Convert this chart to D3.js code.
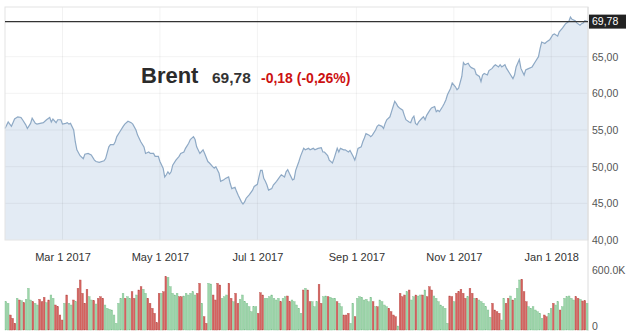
<!DOCTYPE html>
<html>
<head>
<meta charset="utf-8">
<script src="https://cdn.jsdelivr.net/npm/d3@7"></script>
<style>
    body { margin: 0; background: #fff; }
    svg { display: block; font-family: "Liberation Sans", Arial, sans-serif; }
</style>
</head>
<body>
<div id="chart"></div>
<script>
// daily Brent closes
const dates = [
    "2017-01-24","2017-01-26","2017-01-28","2017-01-29","2017-01-30","2017-02-01","2017-02-03","2017-02-04","2017-02-06","2017-02-07",
    "2017-02-09","2017-02-10","2017-02-12","2017-02-13","2017-02-15","2017-02-17","2017-02-19","2017-02-21","2017-02-22","2017-02-23",
    "2017-02-25","2017-02-26","2017-02-28","2017-03-01","2017-03-03","2017-03-04","2017-03-05","2017-03-06","2017-03-08","2017-03-09",
    "2017-03-10","2017-03-12","2017-03-14","2017-03-15","2017-03-17","2017-03-19","2017-03-21","2017-03-22","2017-03-24","2017-03-27",
    "2017-03-28","2017-03-30","2017-03-31","2017-04-02","2017-04-03","2017-04-04","2017-04-06","2017-04-08","2017-04-09","2017-04-11",
    "2017-04-13","2017-04-14","2017-04-16","2017-04-17","2017-04-19","2017-04-21","2017-04-22","2017-04-24","2017-04-25","2017-04-27",
    "2017-04-28","2017-04-30","2017-05-01","2017-05-03","2017-05-04","2017-05-05","2017-05-06","2017-05-07","2017-05-08","2017-05-09",
    "2017-05-11","2017-05-13","2017-05-14","2017-05-16","2017-05-17","2017-05-19","2017-05-20","2017-05-22","2017-05-23","2017-05-24",
    "2017-05-26","2017-05-28","2017-05-29","2017-05-31","2017-06-01","2017-06-03","2017-06-04","2017-06-05","2017-06-07","2017-06-08",
    "2017-06-10","2017-06-11","2017-06-13","2017-06-14","2017-06-15","2017-06-17","2017-06-18","2017-06-19","2017-06-21","2017-06-22",
    "2017-06-23","2017-06-24","2017-06-26","2017-06-28","2017-06-29","2017-07-01","2017-07-02","2017-07-03","2017-07-04","2017-07-05",
    "2017-07-06","2017-07-07","2017-07-08","2017-07-10","2017-07-11","2017-07-13","2017-07-15","2017-07-16","2017-07-18","2017-07-19",
    "2017-07-20","2017-07-21","2017-07-23","2017-07-24","2017-07-25","2017-07-27","2017-07-28","2017-07-30","2017-07-31","2017-08-02",
    "2017-08-03","2017-08-05","2017-08-06","2017-08-08","2017-08-10","2017-08-11","2017-08-12","2017-08-14","2017-08-15","2017-08-17",
    "2017-08-18","2017-08-20","2017-08-21","2017-08-22","2017-08-24","2017-08-25","2017-08-27","2017-08-28","2017-08-30","2017-08-31",
    "2017-09-01","2017-09-02","2017-09-04","2017-09-05","2017-09-06","2017-09-07","2017-09-09","2017-09-10","2017-09-11","2017-09-13",
    "2017-09-14","2017-09-15","2017-09-17","2017-09-18","2017-09-19","2017-09-20","2017-09-22","2017-09-23","2017-09-24","2017-09-25",
    "2017-09-26","2017-09-27","2017-09-28","2017-09-30","2017-10-01","2017-10-02","2017-10-04","2017-10-05","2017-10-06","2017-10-07",
    "2017-10-08","2017-10-09","2017-10-10","2017-10-12","2017-10-13","2017-10-14","2017-10-15","2017-10-17","2017-10-18","2017-10-20",
    "2017-10-21","2017-10-22","2017-10-23","2017-10-25","2017-10-26","2017-10-27","2017-10-28","2017-10-30","2017-10-31","2017-11-02",
    "2017-11-03","2017-11-04","2017-11-06","2017-11-07","2017-11-08","2017-11-10","2017-11-11","2017-11-12","2017-11-14","2017-11-15",
    "2017-11-17","2017-11-18","2017-11-19","2017-11-20","2017-11-22","2017-11-23","2017-11-25","2017-11-26","2017-11-27","2017-11-29",
    "2017-11-30","2017-12-01","2017-12-03","2017-12-04","2017-12-06","2017-12-08","2017-12-09","2017-12-10","2017-12-12","2017-12-13",
    "2017-12-15","2017-12-16","2017-12-17","2017-12-20","2017-12-22","2017-12-24","2017-12-25","2017-12-26","2017-12-28","2017-12-29",
    "2017-12-31","2018-01-02","2018-01-03","2018-01-05","2018-01-06","2018-01-08","2018-01-10","2018-01-12","2018-01-13","2018-01-14",
    "2018-01-16","2018-01-17","2018-01-19","2018-01-20","2018-01-21","2018-01-22","2018-01-24"
];
const closes = [
    55.2,56.1,55.5,56.0,56.5,56.8,56.7,56.4,55.7,55.2,
    55.9,56.6,55.9,55.8,55.9,56.0,56.4,56.7,56.1,56.5,
    56.0,56.4,56.4,55.8,55.9,56.0,55.8,55.9,55.0,53.4,
    52.3,51.5,51.1,51.7,51.8,51.6,50.9,50.7,50.6,50.8,
    51.1,52.7,53.0,53.0,53.4,54.1,54.8,55.5,55.8,56.2,
    56.0,55.8,55.0,54.3,53.4,52.7,51.8,52.0,51.8,51.8,
    51.4,51.4,50.7,49.8,48.6,48.9,49.3,49.0,49.3,50.2,
    50.9,51.4,51.8,52.0,52.5,53.2,53.7,54.1,53.7,52.7,
    51.8,52.3,51.8,50.7,50.5,50.0,49.8,50.0,49.1,48.0,
    48.2,48.4,48.6,47.7,47.0,47.2,46.6,46.1,45.2,44.9,
    45.2,45.7,46.2,46.8,47.3,47.6,48.6,49.5,49.5,48.4,
    48.0,47.5,46.8,47.0,47.5,48.0,48.6,48.9,48.6,49.3,
    49.6,49.1,48.2,48.3,49.5,50.7,51.4,52.5,52.3,52.5,
    52.3,52.5,52.3,52.5,52.6,52.0,52.0,51.5,50.9,50.5,
    51.1,52.5,52.0,52.5,52.3,52.3,52.0,52.2,51.4,50.9,
    51.6,52.5,52.7,53.4,53.9,54.5,54.3,54.1,54.3,55.0,
    55.5,55.7,55.5,55.2,55.9,56.4,56.8,57.5,58.2,58.9,
    58.6,58.2,58.0,57.7,57.0,56.4,56.1,56.0,56.6,56.9,
    55.9,55.7,56.1,56.6,56.8,56.4,57.0,57.7,58.0,58.2,
    57.5,57.7,57.5,58.2,58.6,59.1,59.8,60.7,61.4,60.9,
    60.5,60.7,62.3,64.2,63.9,64.1,63.7,63.5,63.3,62.6,
    62.3,61.6,62.5,62.7,62.5,63.1,63.4,63.7,63.9,63.6,
    63.9,63.6,63.9,63.4,62.7,62.0,62.5,63.6,64.6,63.4,
    62.5,63.2,63.3,63.6,64.3,65.0,66.1,67.0,66.8,67.0,
    67.3,68.0,68.1,67.8,68.4,68.9,69.5,69.8,70.4,70.1,
    69.9,69.6,69.3,69.5,69.6,69.9,69.78
];

// daily volume in thousands
const volumes = [
    283,267,150,117,67,317,300,293,273,307,417,300,283,267,250,307,283,327,273,300,
    350,317,250,233,150,100,267,350,267,250,300,283,417,500,367,267,407,333,300,293,
    260,317,333,317,250,217,207,200,150,67,267,317,367,317,333,317,383,317,350,400,
    433,407,367,317,267,217,167,73,367,367,383,533,527,433,367,350,367,333,333,340,
    367,350,367,383,350,367,467,267,133,67,467,460,350,300,467,450,317,333,350,467,
    317,283,367,267,307,350,283,267,233,183,233,233,167,373,350,317,317,333,350,317,
    300,317,283,317,333,340,283,300,283,250,217,167,400,417,400,283,283,233,
    283,457,267,333,340,333,327,317,317,283,267,233,150,150,167,67,267,133,317,333,
    327,300,307,283,327,283,233,233,300,283,250,233,217,183,150,133,40,367,333,350,
    383,400,300,333,350,340,350,350,400,333,433,400,340,317,283,250,233,217,67,340,
    333,283,367,383,407,367,317,333,417,367,317,317,300,283,267,233,200,127,267,200,
    183,167,100,317,267,317,340,300,317,417,500,507,383,283,233,217,233,200,183,167,
    117,150,133,167,217,267,250,283,200,233,317,333,340,317,300,333,317,307,290,293,
    267
];
// u = up day (green), d = down day (red), one letter per volume bar
const volDir = [
    "uudddududu","uuduudddud","uudddduduu","duddddduud","uddduuuuuu","uuuduuddud","duuddddddu",
    "dduuuuuddu","uuuuuddudd","uudddduuud","dudduuuuuu","uuddduuuuu","uuduudduuu","uududduu",
    "udduuduuud","uuddduuduu","uuuuududuu","uudddduddd","uduuduudud","dduuuuuuud","dudddddudd",
    "uduuuuuudd","dduudduduu","uddduuuuuu","udduuduudu","uuuuuddudd","u"
].join("").split("");

const yTicks = [40, 45, 50, 55, 60, 65];
const xTicks = ["2017-03-01","2017-05-01","2017-07-01","2017-09-01","2017-11-01","2018-01-01"];
const volTicks = [0, 600];

const lastClose = 69.78;
const change = "-0,18 (-0,26%)";

function main() {
    const parse = d3.timeParse("%Y-%m-%d");
    const data = dates.map(function(d, i) { return { date: parse(d), close: closes[i] }; });
    drawChart(data, parse);
}

function drawChart(data, parse) {
    const width = 640, height = 331;
    const left = 5, right = 588, top = 7, bottom = 240;

    const svg = d3.select("#chart").append("svg")
        .attr("width", width)
        .attr("height", height);

    const x = d3.scaleTime()
        .domain([parse("2017-01-24"), parse("2018-01-24")])
        .range([left, right]);
    const y = d3.scaleLinear().domain([40, 70]).range([bottom, 20]);
    const yVol = d3.scaleLinear().domain([0, 600]).range([330, 270]);

    const comma = function(v) { return d3.format(".2f")(v).replace(".", ","); };

    // area + line
    const area = d3.area()
        .x(function(d) { return x(d.date); })
        .y0(bottom)
        .y1(function(d) { return y(d.close); });
    const line = d3.line()
        .x(function(d) { return x(d.date); })
        .y(function(d) { return y(d.close); });

    svg.append("path")
        .datum(data)
        .attr("d", area)
        .attr("fill", "#e3ebf4");

    // faint grid
    svg.append("g")
        .selectAll("line")
        .data(yTicks.slice(1))
        .enter()
        .append("line")
        .attr("x1", left).attr("x2", right)
        .attr("y1", function(d) { return y(d); })
        .attr("y2", function(d) { return y(d); })
        .attr("stroke", "#000")
        .attr("stroke-opacity", 0.05);
    svg.append("g")
        .selectAll("line")
        .data(xTicks)
        .enter()
        .append("line")
        .attr("x1", function(d) { return x(parse(d)); })
        .attr("x2", function(d) { return x(parse(d)); })
        .attr("y1", top).attr("y2", bottom)
        .attr("stroke", "#000")
        .attr("stroke-opacity", 0.05);

    svg.append("path")
        .datum(data)
        .attr("d", line)
        .attr("fill", "none")
        .attr("stroke", "#8ea9c5")
        .attr("stroke-width", 1.2);

    // frame
    svg.append("rect")
        .attr("x", left).attr("y", top)
        .attr("width", right - left).attr("height", bottom - top)
        .attr("fill", "none")
        .attr("stroke", "#e4e4e4");
    svg.append("line")
        .attr("x1", right).attr("x2", right)
        .attr("y1", top).attr("y2", height)
        .attr("stroke", "#dcdcdc");

    // last price line and tag
    svg.append("line")
        .attr("x1", left).attr("x2", right)
        .attr("y1", y(lastClose)).attr("y2", y(lastClose))
        .attr("stroke", "#333")
        .attr("stroke-width", 1.3);
    svg.append("rect")
        .attr("x", right + 1).attr("y", y(lastClose) - 7)
        .attr("width", 37).attr("height", 14)
        .attr("fill", "#222");
    svg.append("text")
        .attr("x", right + 4).attr("y", y(lastClose) + 3.5)
        .attr("fill", "#fff")
        .style("font-size", "10.5px")
        .text(comma(lastClose));

    // right price axis
    const yAxis = svg.append("g")
        .attr("transform", `translate(${right}, 0)`)
        .call(d3.axisRight(y).tickValues(yTicks).tickFormat(comma).tickSize(0).tickPadding(4));
    yAxis.select(".domain").remove();
    yAxis.selectAll("text").style("font-size", "10.5px").attr("fill", "#555");

    // bottom date axis
    const xAxis = svg.append("g")
        .attr("transform", `translate(0, 250)`)
        .call(d3.axisBottom(x)
            .tickValues(xTicks.map(parse))
            .tickFormat(d3.timeFormat("%b %-d %Y"))
            .tickSize(0).tickPadding(3));
    xAxis.select(".domain").remove();
    xAxis.selectAll("text").style("font-size", "11px").attr("fill", "#333");

    // volume bars
    const xVol = d3.scaleBand()
        .domain(d3.range(volumes.length))
        .range([left, right])
        .paddingInner(0.22);

    svg.selectAll(".volBar")
        .data(volumes)
        .enter()
        .append("rect")
        .attr("class", "volBar")
        .attr("x", function(d, i) { return xVol(i); })
        .attr("width", xVol.bandwidth())
        .attr("y", function(d) { return yVol(d); })
        .attr("height", function(d) { return yVol(0) - yVol(d); })
        .attr("fill", function(d, i) { return volDir[i] == "d" ? "#d5635f" : "#9dd6aa"; })
        .attr("stroke", function(d, i) { return volDir[i] == "d" ? "#b9504d" : "#7fbf8f"; })
        .attr("stroke-width", 0.4);

    const volAxis = svg.append("g")
        .attr("transform", `translate(${right}, 0)`)
        .call(d3.axisRight(yVol).tickValues(volTicks)
            .tickFormat(function(d) { return d ? d3.format(".1f")(d) + "K" : "0"; })
            .tickSize(0).tickPadding(4));
    volAxis.select(".domain").remove();
    volAxis.selectAll("text").style("font-size", "10.5px").attr("fill", "#555");
    volAxis.selectAll("text").filter(function(d) { return d == 0; }).attr("dy", "-0.05em");

    // title
    svg.append("text")
        .attr("x", 141).attr("y", 83)
        .style("font-size", "22px").style("font-weight", "bold")
        .attr("fill", "#2b2b2b")
        .text("Brent");
    svg.append("text")
        .attr("x", 212).attr("y", 83)
        .style("font-size", "15.5px").style("font-weight", "bold")
        .attr("fill", "#333")
        .text(comma(lastClose));
    svg.append("text")
        .attr("x", 261).attr("y", 83)
        .style("font-size", "14px").style("font-weight", "bold")
        .attr("fill", "#cc1111")
        .text(change);
}

main();
</script>
</body>
</html>
